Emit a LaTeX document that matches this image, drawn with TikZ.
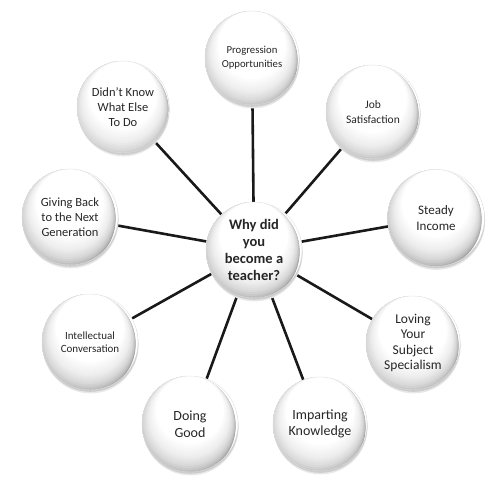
\documentclass[tikz,border=0pt]{standalone}
\usepackage{fontspec}
\setmainfont{Carlito}
\usetikzlibrary{shadows, backgrounds}
\newcommand{\fsz}[2]{\fontsize{#1}{#2}\selectfont}

\begin{document}
\begin{tikzpicture}[x=1pt, y=-1pt,
    bubble/.style={circle, draw=black!12, line width=0.4pt, fill=white,
      minimum size=94pt, inner sep=0pt, align=center, text=black!85,
      general shadow={fill=black!9, shadow xshift=0.6pt, shadow yshift=-3.4pt},
      general shadow={fill=black!20, shadow xshift=0.4pt, shadow yshift=-1.8pt},
      path picture={
        \foreach \r/\g in {50/36, 49/30, 48/25, 47/21, 46/18, 45/15, 44/13, 43/11, 42/9, 41/7, 40/6, 39/5, 38/4, 37/3, 36/2, 35/1, 34/0}
          \fill[black!\g] ([xshift=-0.12*\g pt, yshift=-\r pt]path picture bounding box.north) circle[radius=\r pt];
      }},
    hub/.style={bubble, minimum size=96pt, font=\fsz{14.5}{17}\bfseries},
    spoke/.style={line width=2.6pt, black!90}]
    \useasboundingbox (0,0) rectangle (500,493);
    % centre question
    \node[hub] (q) at (254,250) {Why did\\you\\become a\\teacher?};
    % reasons, clockwise from the top
    \node[bubble, font=\fsz{10.7}{14}] (prog) at (252,58) {Progression\\Opportunities};
    \node[bubble, font=\fsz{11.5}{14.5}] (job) at (373,112) {Job\\Satisfaction};
    \node[bubble, minimum size=97pt, font=\fsz{13}{15.5}] (steady) at (436,218) {Steady\\Income};
    \node[bubble, font=\fsz{13.5}{15.5}] (loving) at (413,343) {Loving\\Your\\Subject\\Specialism};
    \node[bubble, font=\fsz{14}{16.5}] (impart) at (320,424) {Imparting\\Knowledge};
    \node[bubble, minimum size=96pt, font=\fsz{14}{16.5}] (doing) at (190,424) {Doing\\Good};
    \node[bubble, minimum size=96pt, font=\fsz{11}{13}] (intel) at (90,342) {Intellectual\\Conversation};
    \node[bubble, minimum size=96pt, font=\fsz{12.5}{15}] (giving) at (70,217) {Giving Back\\to the Next\\Generation};
    \node[bubble, minimum size=92pt, font=\fsz{12.5}{15}] (didnt) at (123,107) {Didn’t Know\\What Else\\To Do};
    \begin{scope}[on background layer]
      \foreach \n in {prog,job,steady,loving,impart,doing,intel,giving,didnt}
        \draw[spoke] (q) -- (\n);
    \end{scope}
\end{tikzpicture}
\end{document}
